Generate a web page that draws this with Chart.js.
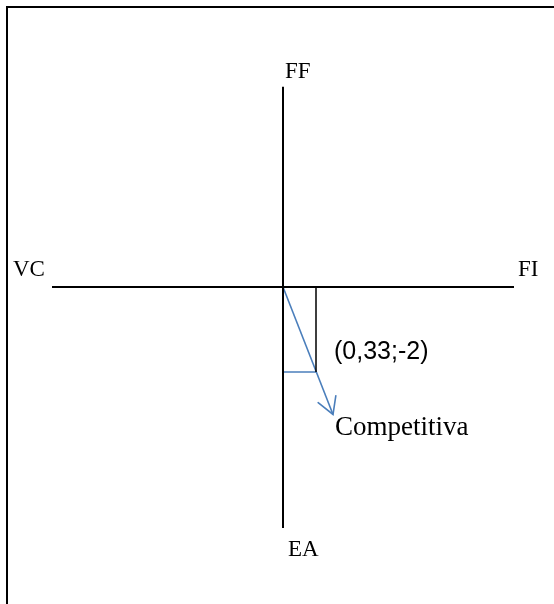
<!DOCTYPE html>
<html>
<head>
<meta charset="utf-8">
<script src="https://cdn.jsdelivr.net/npm/chart.js@4/dist/chart.umd.min.js"></script>
<style>
  html, body { margin: 0; padding: 0; background: #fff; }
  #wrap { position: relative; width: 554px; height: 604px; overflow: hidden; }
  #frame { position: absolute; left: 6px; top: 6px; width: 700px; height: 700px;
           border-top: 2px solid #000; border-left: 2px solid #000; }
  #c { position: absolute; left: 0; top: 0; }
</style>
</head>
<body>
<div id="wrap">
  <div id="frame"></div>
  <canvas id="c" width="554" height="604"></canvas>
</div>
<script>
// ---- data ----
const horizontalAxis = [{x: -2.31, y: 0}, {x: 2.31, y: 0}];
const verticalAxis = [{x: 0, y: 4.71}, {x: 0, y: -5.67}];
const resultPoint = {x: 0.33, y: -2};
const projX = [{x: 0.33, y: 0}, {x: 0.33, y: -2}];
const projY = [{x: 0, y: -2}, {x: 0.33, y: -2}];
const vectorLine = [{x: 0, y: 0}, {x: 0.5, y: -3.0}];
const axisLabelTexts = ['FF', 'EA', 'VC', 'FI'];
const axisLabelPos = [{x: 0.02, y: 5.06}, {x: 0.05, y: -6.19}, {x: -2.70, y: 0.40}, {x: 2.35, y: 0.40}];
const pointLabel = '(0,33;-2)';
const pointLabelPos = {x: 0.51, y: -1.53};
const resultLabel = 'Competitiva';
const resultLabelPos = {x: 0.52, y: -3.32};

const BLUE = '#4a7ebb';

const textPlugin = {
  id: 'texts',
  afterDatasetsDraw(chart) {
    const {ctx, scales: {x, y}} = chart;
    ctx.save();
    ctx.fillStyle = '#000';
    ctx.textAlign = 'left';
    ctx.textBaseline = 'middle';
    ctx.font = '23px "Liberation Serif", "Times New Roman", serif';
    axisLabelTexts.forEach((t, i) => {
      ctx.fillText(t, x.getPixelForValue(axisLabelPos[i].x), y.getPixelForValue(axisLabelPos[i].y));
    });
    ctx.font = '25px "Liberation Sans", Arial, sans-serif';
    ctx.fillText(pointLabel, x.getPixelForValue(pointLabelPos.x), y.getPixelForValue(pointLabelPos.y));
    ctx.font = '27px "Liberation Serif", "Times New Roman", serif';
    ctx.fillText(resultLabel, x.getPixelForValue(resultLabelPos.x), y.getPixelForValue(resultLabelPos.y));

    // arrowhead on vector
    const p0 = vectorLine[0], p1 = vectorLine[vectorLine.length - 1];
    const x0 = x.getPixelForValue(p0.x), y0 = y.getPixelForValue(p0.y);
    const x1 = x.getPixelForValue(p1.x), y1 = y.getPixelForValue(p1.y);
    const ang = Math.atan2(y0 - y1, x0 - x1);
    const L = 19, spread = Math.PI / 6;
    ctx.strokeStyle = BLUE;
    ctx.lineWidth = 1.6;
    ctx.lineCap = 'round';
    ctx.beginPath();
    ctx.moveTo(x1 + L * Math.cos(ang - spread), y1 + L * Math.sin(ang - spread));
    ctx.lineTo(x1, y1);
    ctx.lineTo(x1 + L * Math.cos(ang + spread), y1 + L * Math.sin(ang + spread));
    ctx.stroke();
    ctx.restore();
  }
};

const line = (data, color, width) => ({
  data, showLine: true, borderColor: color, borderWidth: width,
  pointRadius: 0, fill: false, tension: 0
});

new Chart(document.getElementById('c'), {
  type: 'scatter',
  data: {
    datasets: [
      line(horizontalAxis, '#000', 2),
      line(verticalAxis, '#000', 2),
      line(projX, '#000', 1.5),
      line(projY, BLUE, 1.6),
      line(vectorLine, BLUE, 1.6)
    ]
  },
  options: {
    responsive: false,
    animation: false,
    events: [],
    layout: {padding: 0},
    plugins: {legend: {display: false}, tooltip: {enabled: false}},
    scales: {
      x: {type: 'linear', display: false, min: -2.83, max: 2.71},
      y: {type: 'linear', display: false, min: -7.459, max: 6.753}
    }
  },
  plugins: [textPlugin]
});
</script>
</body>
</html>
